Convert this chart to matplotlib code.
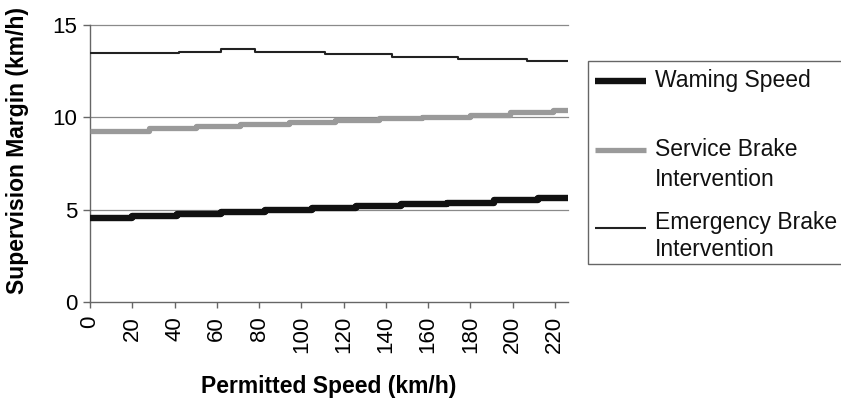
import matplotlib
matplotlib.use("Agg")
import matplotlib.pyplot as plt
from matplotlib.lines import Line2D
from matplotlib.patches import Rectangle

plt.rcParams["font.family"] = ["Liberation Sans", "DejaVu Sans"]

# --- Data: step functions (start speed of each step, level) ---
speed_max = 226
warning_speed = [0, 20, 41, 62, 83, 105, 126, 147, 169, 191, 212]
warning_margin = [4.53, 4.65, 4.77, 4.88, 4.98, 5.07, 5.19, 5.29, 5.38, 5.50, 5.61]

service_speed = [0, 28, 50, 71, 94, 116, 137, 157, 180, 199, 219]
service_margin = [9.27, 9.40, 9.53, 9.62, 9.73, 9.85, 9.95, 10.03, 10.12, 10.28, 10.40]

emergency_speed = [0, 42, 62, 78, 111, 143, 174, 207]
emergency_margin = [13.46, 13.55, 13.68, 13.55, 13.41, 13.28, 13.17, 13.06]

x_ticks = list(range(0, 221, 20))
y_ticks = [0, 5, 10, 15]

series = [
    ("Waming Speed", warning_speed, warning_margin, "#111111", 4.6),
    ("Service Brake\nIntervention", service_speed, service_margin, "#9a9a9a", 3.8),
    ("Emergency Brake\nIntervention", emergency_speed, emergency_margin, "#222222", 1.5),
]

fig = plt.figure(figsize=(8.41, 3.99), dpi=100)
W, H = 841, 399
ax = fig.add_axes([90 / W, 1 - 302 / H, 477.5 / W, 277 / H])

for label, xs, ys, color, lw in series:
    ax.step(xs + [speed_max], ys + [ys[-1]], where="post", color=color,
            linewidth=lw, solid_capstyle="butt", zorder=3)

ax.set_xlim(0, speed_max)
ax.set_ylim(0, 15)
ax.set_xticks(x_ticks)
ax.set_xticklabels([str(v) for v in x_ticks], rotation=90)
ax.set_yticks(y_ticks)

for y in y_ticks[1:]:
    ax.axhline(y, color="#8a8a8a", linewidth=0.9, zorder=1, clip_on=False)

for side in ["top", "right"]:
    ax.spines[side].set_visible(False)
for side in ["left", "bottom"]:
    ax.spines[side].set_color("#666666")
    ax.spines[side].set_linewidth(1.0)

ax.tick_params(axis="y", length=5, width=1, color="#666666", pad=4, labelsize=16)
ax.tick_params(axis="x", length=4, width=1, color="#666666", pad=6, labelsize=16)

ax.set_xlabel("Permitted Speed (km/h)", fontsize=16.5, fontweight="bold")
ax.set_ylabel("Supervision Margin (km/h)", fontsize=16.5, fontweight="bold")
ax.xaxis.set_label_coords(0.5, (302 - 386) / 277)
ax.xaxis.label.set_verticalalignment("center")
ax.yaxis.set_label_coords((18 - 90) / 477.5, (302 - 151) / 277)
ax.yaxis.label.set_verticalalignment("center")

# --- legend box drawn by hand so handles line up with the first text line ---
def fx(px):
    return px / W


def fy(py):
    return 1 - py / H


fig.add_artist(Rectangle((fx(588), fy(264)), fx(300), 203 / H, transform=fig.transFigure,
                         facecolor="white", edgecolor="#666666", linewidth=1.0))
handle_y = [81, 150, 228]
text_lines = [[("Waming Speed", 81)],
              [("Service Brake", 150), ("Intervention", 179)],
              [("Emergency Brake", 222), ("Intervention", 250)]]
for (label, xs, ys, color, lw), hy, lines in zip(series, handle_y, text_lines):
    fig.add_artist(Line2D([fx(595), fx(646)], [fy(hy), fy(hy)], transform=fig.transFigure,
                          color=color, linewidth=lw, solid_capstyle="butt"))
    for txt, ty in lines:
        fig.text(fx(655), fy(ty), txt, fontsize=16.5, va="center", ha="left", color="#111111")

fig.savefig("out.png", dpi=100)
